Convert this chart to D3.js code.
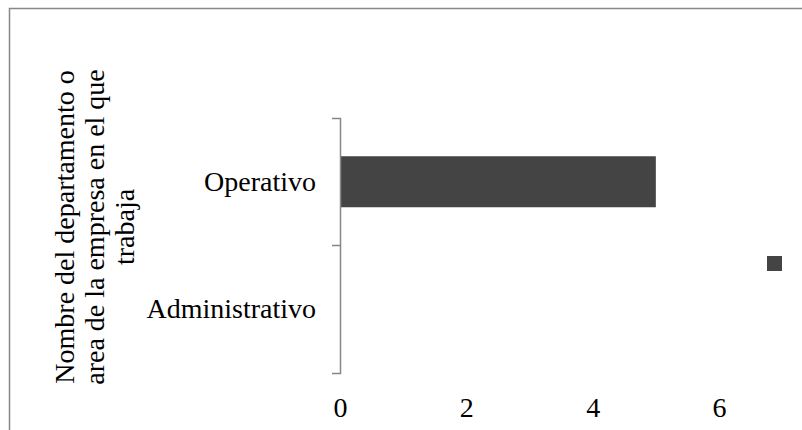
<!DOCTYPE html>
<html>
<head>
<meta charset="utf-8">
<script src="https://cdn.jsdelivr.net/npm/d3@7"></script>
<style>
  body { margin: 0; background: #fff; }
  svg { display: block; font-family: "Liberation Serif", serif; }
</style>
</head>
<body>
<div class="chart"></div>
<script>
// data
var categories = ["Operativo", "Administrativo"];
var values = [5, 0];
var xTicks = [0, 2, 4, 6];
var titleLines = ["Nombre del departamento o", "area de la empresa en el que", "trabaja"];

var width = 802, height = 430;
var fontSize = 28;
var barColor = "#444444";

var svg = d3.select('.chart')
    .append('svg')
    .attr('width', width)
    .attr('height', height);

// chart border (runs off the right / bottom edge)
svg.append('rect')
    .attr('x', 9.5)
    .attr('y', 8.5)
    .attr('width', 830)
    .attr('height', 460)
    .style('fill', 'none')
    .style('stroke', '#878787')
    .style('stroke-width', 1.5);

// scales
var x = d3.scaleLinear()
    .domain([0, 6])
    .range([340, 719]);

var y = d3.scaleBand()
    .domain(categories)
    .range([118, 373])
    .padding(0);

var barH = y.bandwidth() * 0.4;

// bars
svg.selectAll('rect.bar')
    .data(categories)
    .enter()
    .append('rect')
    .attr('class', 'bar')
    .attr('x', x(0))
    .attr('y', function(d){ return y(d) + (y.bandwidth() - barH) / 2; })
    .attr('width', function(d, i){ return x(values[i]) - x(0); })
    .attr('height', barH)
    .style('fill', barColor);

// y axis
var yAxis = d3.axisLeft(y).tickSize(0).tickSizeOuter(8).tickPadding(24);
var gy = svg.append('g')
    .attr('transform', 'translate(' + x(0) + ',0)')
    .call(yAxis);
gy.select('.domain').style('stroke', '#878787').style('stroke-width', 1.5);
gy.selectAll('text')
    .style('font-family', '"Liberation Serif", serif')
    .style('font-size', fontSize + 'px')
    .style('fill', '#000');

// tick marks between categories
gy.selectAll('line.sep')
    .data(categories.slice(1))
    .enter()
    .append('line')
    .attr('class', 'sep')
    .attr('x1', -8).attr('x2', 0)
    .attr('y1', function(d){ return y(d); })
    .attr('y2', function(d){ return y(d); })
    .style('stroke', '#878787')
    .style('stroke-width', 1.5);

// x axis (labels only)
var xAxis = d3.axisBottom(x).tickValues(xTicks).tickFormat(d3.format('d')).tickSize(0).tickPadding(0);
var gx = svg.append('g')
    .attr('transform', 'translate(0,397)')
    .call(xAxis);
gx.select('.domain').remove();
gx.selectAll('text')
    .attr('dy', '0.71em')
    .style('font-family', '"Liberation Serif", serif')
    .style('font-size', fontSize + 'px')
    .style('fill', '#000');

// axis title
var title = svg.append('text')
    .attr('transform', 'rotate(-90)')
    .style('text-anchor', 'middle')
    .style('font-size', fontSize + 'px')
    .style('fill', '#000');
title.selectAll('tspan')
    .data(titleLines)
    .enter()
    .append('tspan')
    .attr('x', -227)
    .attr('y', function(d, i){ return 74 + i * 30; })
    .text(function(d){ return d; });

// legend
svg.append('rect')
    .attr('x', 767)
    .attr('y', 256)
    .attr('width', 15)
    .attr('height', 15)
    .style('fill', barColor);
</script>
</body>
</html>
